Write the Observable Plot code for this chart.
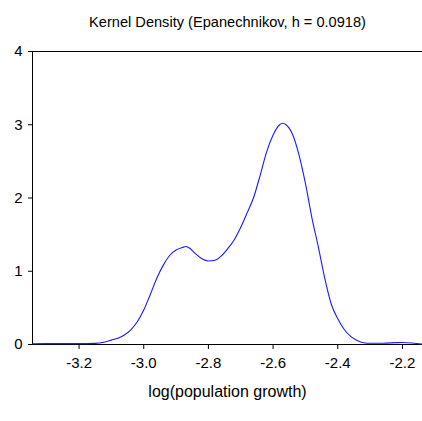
<!DOCTYPE html>
<html>
<head>
<meta charset="utf-8">
<script src="https://cdn.jsdelivr.net/npm/d3@7"></script>
<script src="https://cdn.jsdelivr.net/npm/@observablehq/plot@0.6"></script>
<style>
  html, body { margin: 0; padding: 0; background: #fff; }
  #chart svg { display: block; }
</style>
</head>
<body>
<div id="chart"></div>
<script>
// Kernel density estimate of log(population growth)
const gridX = [-3.344, -3.30, -3.25, -3.20, -3.15, -3.12, -3.10, -3.08, -3.06, -3.04,
  -3.02, -3.00, -2.98, -2.96, -2.94, -2.92, -2.90, -2.88, -2.87, -2.86,
  -2.84, -2.82, -2.80, -2.78, -2.76, -2.74, -2.72, -2.70, -2.68, -2.66,
  -2.64, -2.62, -2.60, -2.58, -2.57, -2.56, -2.54, -2.52, -2.50, -2.48,
  -2.46, -2.44, -2.42, -2.40, -2.38, -2.36, -2.34, -2.32, -2.30, -2.26,
  -2.22, -2.20, -2.17, -2.138];
const density = [0.010, 0.012, 0.012, 0.012, 0.015, 0.035, 0.060, 0.085, 0.130, 0.200,
  0.310, 0.470, 0.680, 0.900, 1.080, 1.215, 1.290, 1.325, 1.337, 1.320,
  1.240, 1.170, 1.140, 1.150, 1.210, 1.310, 1.430, 1.600, 1.800, 2.010,
  2.310, 2.630, 2.860, 3.000, 3.020, 3.000, 2.870, 2.590, 2.200, 1.730,
  1.330, 0.900, 0.550, 0.350, 0.205, 0.110, 0.055, 0.025, 0.018, 0.018,
  0.025, 0.027, 0.020, 0.005];
const xTicks = [-3.2, -3.0, -2.8, -2.6, -2.4, -2.2];
const yTicks = [0, 1, 2, 3, 4];
const xDomain = [-3.344, -2.138];
const yDomain = [0, 4];
const titleText = "Kernel Density (Epanechnikov, h = 0.0918)";
const xLabel = "log(population growth)";

const points = gridX.map((x, i) => ({x, y: density[i]}));

const chart = Plot.plot({
  width: 422,
  height: 421,
  marginLeft: 32,
  marginRight: 0,
  marginTop: 51,
  marginBottom: 77,
  style: {fontFamily: "'Liberation Sans', Arial, sans-serif", fontSize: "15px", color: "#000", background: "#fff"},
  x: {domain: xDomain, label: null},
  y: {domain: yDomain, label: null},
  marks: [
    Plot.axisX({ticks: xTicks, tickFormat: d => d.toFixed(1), tickSize: 5, tickPadding: 8, stroke: "#000", fontSize: 15, label: null}),
    Plot.axisY({ticks: yTicks, tickFormat: d => String(d), tickSize: 4, tickPadding: 6, stroke: "#000", fontSize: 15, label: null}),
    Plot.ruleY([yDomain[1]], {stroke: "#000", strokeWidth: 1}),
    Plot.ruleY([yDomain[0]], {stroke: "#000", strokeWidth: 1}),
    Plot.ruleX([xDomain[0]], {stroke: "#000", strokeWidth: 1}),
    Plot.line(points, {x: "x", y: "y", stroke: "#1a1aff", strokeWidth: 1.1, curve: "monotone-x"}),
    Plot.text([titleText], {frameAnchor: "top", dy: -35, text: d => d, fontSize: 14.6, fill: "#000"}),
    Plot.text([xLabel], {frameAnchor: "bottom", dy: 52, text: d => d, fontSize: 16, fill: "#000"})
  ]
});
document.getElementById("chart").appendChild(chart);
</script>
</body>
</html>
